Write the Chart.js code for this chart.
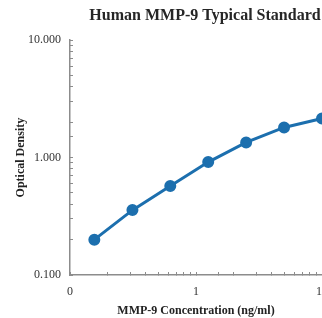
<!DOCTYPE html>
<html>
<head>
<meta charset="utf-8">
<script src="https://cdn.jsdelivr.net/npm/chart.js@4/dist/chart.umd.min.js"></script>
<style>
  html, body { margin: 0; padding: 0; background: #fff; overflow: hidden; }
  #wrap { width: 410px; height: 318px; }
</style>
</head>
<body>
<div id="wrap"><canvas id="curve" width="410" height="318"></canvas></div>
<script>
// MMP-9 standard curve (ng/ml -> OD)
const concentrations = [0.156, 0.313, 0.625, 1.25, 2.5, 5, 10];
const densities = [0.2, 0.357, 0.572, 0.916, 1.346, 1.807, 2.156];
const xTickLabels = { 0.1: "0", 1: "1", 10: "10" };
const yTickLabels = { 0.1: "0.100", 1: "1.000", 10: "10.000" };

const serif = "'Liberation Serif', 'Times New Roman', serif";
const blue = "#1c6fae";
const axisGrey = "#8c8c8c";

function isDecade(v) {
    const l = Math.log10(v);
    return Math.abs(l - Math.round(l)) < 1e-9;
}

new Chart(document.getElementById("curve"), {
    type: "line",
    data: {
        datasets: [{
            data: concentrations.map((c, i) => ({ x: c, y: densities[i] })),
            borderColor: blue,
            backgroundColor: blue,
            borderWidth: 3,
            pointRadius: 4.5,
            pointHoverRadius: 4.5,
            tension: 0,
            clip: false
        }]
    },
    options: {
        responsive: false,
        animation: false,
        layout: { padding: 0 },
        plugins: {
            legend: { display: false },
            tooltip: { enabled: false },
            title: {
                display: true,
                text: "Human MMP-9 Typical Standard",
                color: "#262626",
                font: { family: serif, size: 16, weight: "bold" },
                padding: { top: 6, bottom: 15 }
            }
        },
        scales: {
            x: {
                type: "logarithmic",
                min: 0.1,
                max: 10,
                border: { color: axisGrey, width: 1.5 },
                grid: { drawOnChartArea: false, drawTicks: true, tickLength: -3, color: axisGrey },
                ticks: {
                    autoSkip: false,
                    maxRotation: 0,
                    padding: 13,
                    color: "#333",
                    font: { family: serif, size: 12 },
                    callback: v => isDecade(v) ? (xTickLabels[v] ?? String(Math.round(v))) : ""
                },
                title: {
                    display: true,
                    text: "MMP-9 Concentration (ng/ml)",
                    color: "#222",
                    font: { family: serif, size: 12, weight: "bold" },
                    padding: { top: 0, bottom: 0 }
                },
                afterFit: s => { s.height = 43; }
            },
            y: {
                type: "logarithmic",
                min: 0.1,
                max: 10,
                border: { color: axisGrey, width: 1.5 },
                grid: { drawOnChartArea: false, drawTicks: true, tickLength: -3, color: axisGrey },
                ticks: {
                    autoSkip: false,
                    padding: 12,
                    color: "#333",
                    font: { family: serif, size: 12 },
                    callback: v => isDecade(v) ? (yTickLabels[v] ?? v.toFixed(3)) : ""
                },
                title: {
                    display: true,
                    text: "Optical Density",
                    color: "#222",
                    font: { family: serif, size: 12, weight: "bold" },
                    padding: { top: 14, bottom: 0 }
                },
                afterFit: s => { s.width = 70; }
            },
            // empty right-hand box: keeps the plot ending at 10 while the title spans the full canvas
            spacer: {
                type: "linear",
                position: "right",
                display: true,
                border: { display: false },
                grid: { display: false },
                ticks: { display: false },
                afterFit: s => { s.width = 88; }
            }
        }
    }
});
</script>
</body>
</html>
